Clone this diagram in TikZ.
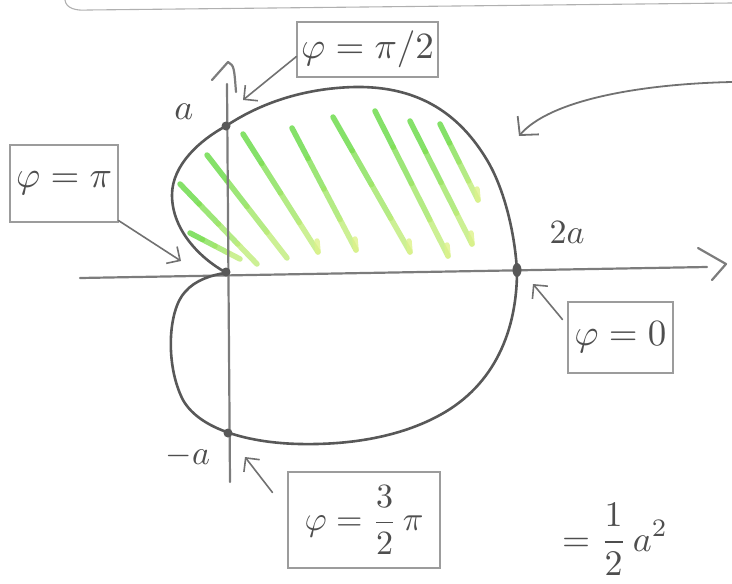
\documentclass[tikz,border=0pt]{standalone}
\usepackage{graphicx}
\usetikzlibrary{arrows.meta,calc,shapes.geometric}
\definecolor{pencil}{HTML}{585858}
\definecolor{axisgray}{HTML}{7c7c7c}
\definecolor{boxgray}{HTML}{9c9c9c}
\definecolor{inkgray}{HTML}{4e4e4e}
\definecolor{hatchgreen}{HTML}{66DA44}
\definecolor{hatchyellow}{HTML}{DDF28A}
\begin{document}
\begin{tikzpicture}[x=1pt,y=-1pt,
  curveline/.style={draw=pencil,line width=2.6pt,line cap=round,line join=round},
  axisline/.style={draw=axisgray,line width=2.2pt,line cap=round,line join=round},
  labelbox/.style={draw=boxgray,line width=1.1pt,inner sep=0pt,text=inkgray},
  pointer/.style={draw=pencil!85,line width=1.6pt,line cap=round,-{Straight Barb[length=10pt,width=20pt,line width=1.6pt]}},
  handlabel/.style={text=inkgray,inner sep=0pt},
  dotmark/.style={circle,fill=pencil,inner sep=0pt,minimum size=9pt},
  hatchline/.style={line width=5.5pt,line cap=round,opacity=0.8}]
\useasboundingbox (0,0) rectangle (732,584);

% partial frame at the top
\draw[draw=boxgray!80,line width=1.1pt] (65,0) .. controls (66,8) and (75,11) .. (88,10) -- (732,3);

% green hatching
\foreach \ax/\ay/\bx/\by/\hk in {207/155/287/258/0, 180/184/257/264/0, 190/233/240/259/0,
  243/134/318/252/1, 292/128/356/250/1, 333/117/410/252/1, 375/111/448/256/1,
  410/121/472/244/1, 440/124/478/200/1}{
  \foreach \i [evaluate=\i as \p using int(100-25*\i), evaluate=\i as \ta using \i/4,
               evaluate=\i as \tb using (\i+1)/4] in {0,...,3}{
    \draw[hatchline,draw=hatchgreen!\p!hatchyellow]
      ($(\ax,\ay)!\ta!(\bx,\by)$) -- ($(\ax,\ay)!\tb!(\bx,\by)$);
  }
  \ifnum\hk=1
    \draw[hatchline,draw=hatchyellow] (\bx,\by) -- ++(-1,-11);
  \fi
}

% axes
\coordinate (xs) at (80,278);
\coordinate (xe) at (707,267);
\coordinate (xa1) at (698,248);
\coordinate (xa2) at (726,264);
\coordinate (xa3) at (712,280);
\draw[axisline] (xs) -- (xe);
\draw[axisline] (xa1) -- (xa2) -- (xa3);
\coordinate (ys) at (230,482);
\coordinate (ye) at (227,84);
\coordinate (ya1) at (212,80);
\coordinate (ya2) at (228,62);
\coordinate (ya3) at (236,92);
\draw[axisline] (ys) -- (ye);
\draw[axisline] (ya1) -- (ya2) .. controls (234,66) .. (ya3);

% the cardioid
\draw[curveline] (225,272) .. controls (200,258) and (172,230) .. (172,195)
  .. controls (172,165) and (200,140) .. (226,126)
  .. controls (265,100) and (310,88) .. (355,87)
  .. controls (420,86) and (460,115) .. (487,160)
  .. controls (505,190) and (515,235) .. (517,271);
\draw[curveline] (517,271) .. controls (517,330) and (495,385) .. (440,415)
  .. controls (400,437) and (350,445) .. (300,444)
  .. controls (250,443) and (200,430) .. (183,400)
  .. controls (165,365) and (168,310) .. (185,292)
  .. controls (195,280) and (212,275) .. (225,273);

% marked points
\node[dotmark] (pa) at (226,126) {};
\node[dotmark] (po) at (226,272) {};
\node[dotmark] (pma) at (228,433) {};
\node[ellipse,fill=pencil,inner sep=0pt,minimum width=9pt,minimum height=14pt] (p2a) at (517,270) {};

% axis labels
\node[handlabel] (la) at (184,112) {\scalebox{3.6}{$a$}};
\node[handlabel] (l2a) at (567,233) {\scalebox{3.4}{$2a$}};
\node[handlabel] (lma) at (188,456) {\scalebox{3.4}{$-a$}};

% boxes
\node[labelbox,minimum width=141pt,minimum height=55pt] (bhalf) at (367.5,49.5) {\scalebox{3.7}{$\varphi=\pi/2$}};
\node[labelbox,minimum width=108pt,minimum height=77pt] (bpi) at (64,183.5) {\scalebox{3.7}{$\varphi=\pi$}};
\node[labelbox,minimum width=105pt,minimum height=71pt] (bzero) at (620.5,337.5) {\scalebox{3.7}{$\varphi=0$}};
\node[labelbox,minimum width=152pt,minimum height=96pt] (bthree) at (364,520) {\scalebox{3.4}{$\displaystyle\varphi=\frac{3}{2}\,\pi$}};

% pointers
\coordinate (thalf) at (243,100);
\coordinate (tpi) at (181,261);
\coordinate (tzero) at (533,284);
\coordinate (tthree) at (245,457);
\draw[pointer] ([yshift=-7pt]bhalf.west) -- (thalf);
\draw[pointer] ([yshift=2pt]bpi.south east) -- (tpi);
\draw[pointer] ([xshift=-5pt,yshift=-18pt]bzero.north west) -- (tzero);
\draw[pointer] ([xshift=-15pt,yshift=-21pt]bthree.north west) -- (tthree);

% arrow at the top right
\coordinate (trs) at (732,82);
\coordinate (tre) at (519,136);
\draw[draw=pencil!85,line width=1.8pt,line cap=round,-{Straight Barb[length=13pt,width=28pt,line width=1.8pt]}]
  (trs) .. controls (640,84) and (550,100) .. (tre);

% result at the bottom right
\node[text=inkgray,inner sep=0pt,anchor=south west] (res) at (562,576)
  {\scalebox{3.6}{$\displaystyle =\frac{1}{2}\,a^{2}$}};
\end{tikzpicture}
\end{document}
